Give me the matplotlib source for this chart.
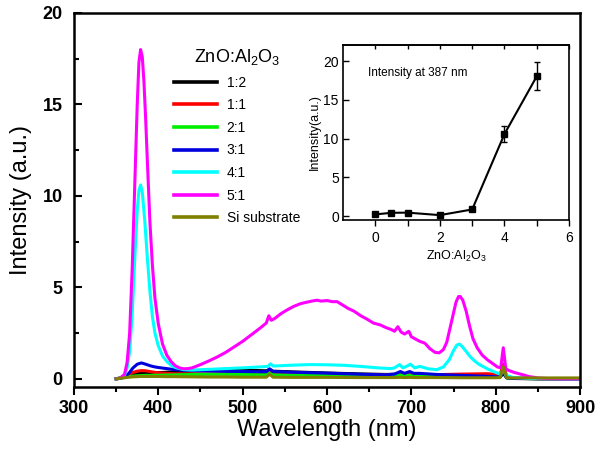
import matplotlib
matplotlib.use("Agg")
import matplotlib.pyplot as plt

plt.rcParams["font.family"] = ["Liberation Sans", "DejaVu Sans"]
plt.rcParams["mathtext.fontset"] = "custom"
plt.rcParams["mathtext.rm"] = "Liberation Sans"
plt.rcParams["mathtext.it"] = "Liberation Sans"

# shared grid for the weak spectra
wl_low = [350, 355, 360, 365, 370, 375, 380, 385, 390, 395, 400, 410, 420, 440,
          460, 480, 500, 520, 528, 532, 536, 560, 600, 640, 670, 680, 687, 692,
          698, 703, 710, 730, 760, 790, 800, 805, 809, 813, 820, 850, 900]

int_12 = [0.0, 0.05, 0.1, 0.18, 0.24, 0.28, 0.3, 0.31, 0.32, 0.33, 0.34, 0.36, 0.38, 0.42,
          0.47, 0.5, 0.48, 0.45, 0.44, 0.5, 0.42, 0.38, 0.32, 0.27, 0.24, 0.25, 0.3, 0.24,
          0.28, 0.23, 0.22, 0.2, 0.17, 0.13, 0.1, 0.08, 0.3, 0.05, 0.02, 0.0, 0.0]
int_11 = [0.0, 0.05, 0.12, 0.25, 0.35, 0.42, 0.45, 0.44, 0.4, 0.36, 0.33, 0.3, 0.28, 0.27,
          0.27, 0.27, 0.27, 0.26, 0.26, 0.33, 0.26, 0.25, 0.24, 0.23, 0.22, 0.22, 0.25, 0.22,
          0.24, 0.22, 0.22, 0.23, 0.26, 0.28, 0.25, 0.2, 0.8, 0.15, 0.05, 0.01, 0.0]
int_21 = [0.0, 0.04, 0.08, 0.12, 0.15, 0.17, 0.18, 0.19, 0.19, 0.2, 0.2, 0.21, 0.22, 0.24,
          0.25, 0.25, 0.24, 0.23, 0.23, 0.3, 0.22, 0.2, 0.18, 0.16, 0.15, 0.16, 0.22, 0.16,
          0.2, 0.15, 0.14, 0.13, 0.11, 0.1, 0.08, 0.08, 0.5, 0.06, 0.03, 0.01, 0.0]
int_31 = [0.0, 0.03, 0.1, 0.3, 0.6, 0.8, 0.87, 0.8, 0.72, 0.66, 0.62, 0.56, 0.5, 0.45,
          0.43, 0.41, 0.4, 0.39, 0.39, 0.55, 0.4, 0.36, 0.31, 0.25, 0.22, 0.26, 0.4, 0.3,
          0.4, 0.3, 0.3, 0.24, 0.19, 0.14, 0.11, 0.1, 0.45, 0.07, 0.03, 0.01, 0.0]
int_si = [0.0, 0.03, 0.06, 0.09, 0.11, 0.12, 0.13, 0.13, 0.13, 0.13, 0.13, 0.12, 0.12, 0.11,
          0.1, 0.1, 0.09, 0.09, 0.09, 0.25, 0.09, 0.08, 0.08, 0.07, 0.07, 0.07, 0.08, 0.07,
          0.08, 0.07, 0.07, 0.07, 0.06, 0.06, 0.06, 0.07, 0.65, 0.07, 0.05, 0.05, 0.05]

wl_41 = [350, 355, 360, 363, 366, 369, 372, 375, 377, 379, 381, 384, 387, 390, 393, 396, 400,
         405, 410, 415, 420, 430, 440, 460, 480, 500, 520, 530, 533, 536, 560, 580, 600,
         620, 640, 660, 675, 680, 686, 690, 695, 699, 704, 710, 720, 730, 738, 745, 750,
         754, 757, 760, 765, 770, 775, 780, 790, 800, 806, 809, 812, 820, 840, 900]
int_41 = [0.0, 0.05, 0.2, 0.6, 1.5, 3.5, 6.5, 9.2, 10.3, 10.6, 10.2, 8.6, 6.6, 4.8, 3.4, 2.5, 1.8,
          1.25, 0.95, 0.75, 0.62, 0.5, 0.48, 0.52, 0.56, 0.6, 0.65, 0.68, 0.82, 0.7, 0.75, 0.78, 0.77,
          0.74, 0.68, 0.6, 0.56, 0.6, 0.78, 0.6, 0.7, 0.8, 0.6, 0.68, 0.55, 0.5, 0.65, 1.05, 1.55,
          1.85, 1.9, 1.78, 1.5, 1.2, 0.98, 0.8, 0.55, 0.35, 0.25, 0.55, 0.2, 0.08, 0.02, 0.0]

wl_51 = [350, 355, 360, 363, 366, 369, 372, 375, 377, 379, 381, 383, 385, 387, 390, 393, 396, 400,
         405, 410, 415, 420, 425, 430, 435, 440, 450, 460, 470, 480, 490, 500, 510, 520,
         528, 531, 534, 538, 545, 552, 560, 568, 575, 582, 588, 593, 600, 606, 612, 618,
         625, 632, 640, 648, 655, 663, 670, 676, 680, 684, 688, 692, 697, 700, 704, 710,
         716, 722, 728, 733, 738, 742, 746, 750, 753, 756, 758, 761, 765, 769, 773, 778,
         784, 790, 796, 802, 806, 809, 812, 816, 822, 830, 840, 850, 860, 880, 900]
int_51 = [0.0, 0.05, 0.25, 0.9, 2.5, 6.0, 10.5, 15.0, 17.3, 18.0, 17.6, 16.2, 14.2, 11.9, 8.6, 6.2, 4.4, 3.0,
          1.9, 1.3, 0.95, 0.72, 0.6, 0.55, 0.56, 0.6, 0.78, 0.98, 1.2, 1.45, 1.75, 2.05, 2.4, 2.75,
          3.05, 3.45, 3.2, 3.3, 3.55, 3.75, 3.95, 4.1, 4.18, 4.25, 4.3, 4.25, 4.28, 4.22, 4.22, 4.05,
          3.85, 3.7, 3.45, 3.25, 3.05, 2.95, 2.8, 2.7, 2.6, 2.85, 2.55, 2.45, 2.6, 2.3, 2.2, 2.05,
          1.95, 1.65, 1.45, 1.42, 1.6, 2.0, 2.8, 3.6, 4.2, 4.5, 4.5, 4.3, 3.7, 2.9, 2.2, 1.7,
          1.3, 1.05, 0.85, 0.65, 0.6, 1.7, 0.55, 0.45, 0.35, 0.25, 0.12, 0.05, 0.02, 0.0, 0.0]

# inset: intensity at 387 nm vs ratio
ratio = [0, 0.5, 1, 2, 3, 4, 5]
peak_int = [0.22, 0.43, 0.45, 0.13, 0.86, 10.6, 18.05]
peak_err = [0, 0, 0, 0, 0, 1.08, 1.8]

series = [
    (wl_low, int_12, "black", "1:2"),
    (wl_low, int_11, "red", "1:1"),
    (wl_low, int_21, "#00ee00", "2:1"),
    (wl_low, int_31, "#0000dd", "3:1"),
    (wl_41, int_41, "cyan", "4:1"),
    (wl_51, int_51, "magenta", "5:1"),
    (wl_low, int_si, "#808000", "Si substrate"),
]

fig = plt.figure(figsize=(6, 4.57), dpi=100)
ax = fig.add_axes([0.1233, 0.153, 0.8434, 0.8186])

for x, y, c, lab in series:
    ax.plot(x, y, color=c, lw=2.2, label=lab)

ax.set_xlim(300, 900)
ax.set_ylim(-0.45, 20)
ax.set_xticks([300, 400, 500, 600, 700, 800, 900])
ax.set_xticks([350, 450, 550, 650, 750, 850], minor=True)
ax.set_yticks([0, 5, 10, 15, 20])
ax.set_yticks([2.5, 7.5, 12.5, 17.5], minor=True)
ax.tick_params(axis="x", which="major", direction="out", length=6, width=1.5, labelsize=13, pad=3)
ax.tick_params(axis="x", which="minor", direction="out", length=3.5, width=1.5)
ax.tick_params(axis="y", which="major", direction="in", length=6, width=1.5, labelsize=13, pad=8)
ax.tick_params(axis="y", which="minor", direction="in", length=3.5, width=1.5)
for lbl in ax.get_xticklabels() + ax.get_yticklabels():
    lbl.set_fontweight("bold")
for s in ax.spines.values():
    s.set_linewidth(1.8)
ax.set_xlabel("Wavelength (nm)", fontsize=17, labelpad=2)
ax.set_ylabel("Intensity (a.u.)", fontsize=17, labelpad=8)

leg = ax.legend(loc="upper left", bbox_to_anchor=(0.278, 0.9125), bbox_transform=fig.transFigure,
                frameon=False, fontsize=10, borderpad=0, handlelength=3.1, handletextpad=0.7,
                labelspacing=0.62, title=r"ZnO:Al$_\mathrm{2}$O$_\mathrm{3}$", title_fontsize=13)
for h in leg.get_lines():
    h.set_linewidth(2.6)

# inset
ins = fig.add_axes([0.5717, 0.5186, 0.3767, 0.383])
ins.errorbar(ratio, peak_int, yerr=peak_err, color="black", lw=1.5, marker="s", markersize=4,
             capsize=2.5, elinewidth=1, capthick=1)
ins.set_xlim(-1, 6)
ins.set_ylim(-0.5, 22.1)
ins.set_xticks([0, 2, 4, 6])
ins.set_xticks([1, 3, 5], minor=True)
ins.set_yticks([0, 5, 10, 15, 20])
ins.tick_params(axis="x", which="both", direction="out", length=4, width=1, labelsize=10, pad=4)
ins.tick_params(axis="y", direction="in", length=4, width=1, labelsize=10, pad=3)
top = ins.secondary_xaxis("top")
top.set_xticks([0, 1, 2, 3, 4, 5, 6])
top.tick_params(direction="in", length=3, width=1, labeltop=False)
top.spines["top"].set_linewidth(1.2)
for s in ins.spines.values():
    s.set_linewidth(1.2)
ins.set_xlabel(r"ZnO:Al$_\mathrm{2}$O$_\mathrm{3}$", fontsize=9, labelpad=3)
ins.set_ylabel("Intensity(a.u.)", fontsize=9, labelpad=2)
ins.text(0.11, 0.84, "Intensity at 387 nm", transform=ins.transAxes, fontsize=8.5, va="center")

fig.savefig("out.png", dpi=100)
